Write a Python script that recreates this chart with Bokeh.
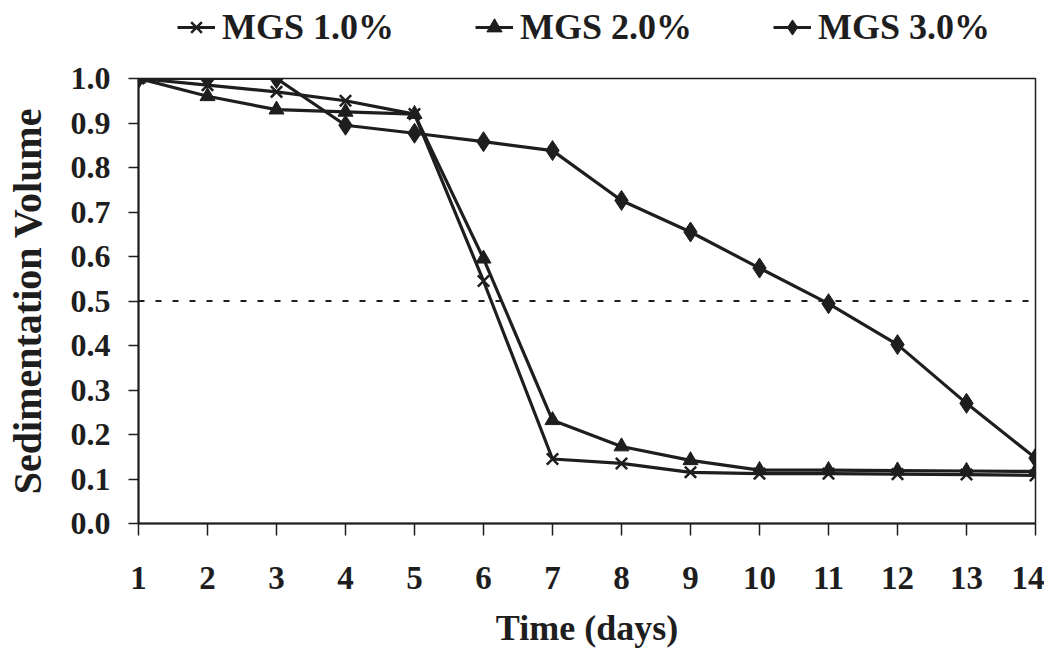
from bokeh.plotting import figure
from bokeh.layouts import column
from bokeh.models import Range1d, FixedTicker, Span, Legend, LegendItem, NumeralTickFormatter
from bokeh.embed import file_html
from bokeh.resources import INLINE

days = list(range(1, 15))
mgs_1 = [1.0, 0.985, 0.97, 0.95, 0.92, 0.545, 0.145, 0.135, 0.115, 0.112, 0.112, 0.111, 0.110, 0.108]
mgs_2 = [1.0, 0.96, 0.93, 0.925, 0.92, 0.595, 0.232, 0.173, 0.142, 0.120, 0.120, 0.119, 0.118, 0.117]
mgs_3 = [1.0, 1.0, 1.0, 0.895, 0.877, 0.858, 0.838, 0.726, 0.655, 0.574, 0.494, 0.402, 0.270, 0.147]
series_names = ["MGS 1.0%", "MGS 2.0%", "MGS 3.0%"]
y_ticks = [0.0, 0.1, 0.2, 0.3, 0.4, 0.5, 0.6, 0.7, 0.8, 0.9, 1.0]
threshold = 0.5

FONT = "Liberation Serif"
INK = "#1e1e1e"
LEG_H = 60

styles = [dict(marker="x", size=16, line_color=INK, line_width=2.5),
          dict(marker="triangle", size=15, fill_color=INK, line_color=INK),
          dict(marker="diamond", size=20, fill_color=INK, line_color=INK)]

# ---------- main chart ----------
p = figure(frame_width=897, frame_height=445, output_backend="svg", toolbar_location=None,
           x_range=Range1d(1, 14), y_range=Range1d(0, 1.0),
           min_border_left=138, min_border_right=9, min_border_top=18, min_border_bottom=110)
p.background_fill_color = "white"
p.border_fill_color = "white"
p.outline_line_color = INK
p.outline_line_width = 1.5
p.xgrid.visible = False
p.ygrid.visible = False

p.add_layout(Span(location=threshold, dimension="width", line_color=INK,
                  line_dash="6 11", line_width=2))

series = [mgs_1, mgs_2, mgs_3]
for ys, st in zip(series, styles):
    p.line(days, ys, line_color=INK, line_width=3.2)
    p.scatter(days, ys, **st)

p.xaxis.ticker = FixedTicker(ticks=days)
p.yaxis.ticker = FixedTicker(ticks=y_ticks)
p.yaxis.formatter = NumeralTickFormatter(format="0.0")

for ax in (p.xaxis, p.yaxis):
    ax.axis_line_color = INK
    ax.axis_line_width = 2
    ax.major_tick_line_color = INK
    ax.major_tick_line_width = 1.5
    ax.major_tick_in = 0
    ax.minor_tick_line_color = None
    ax.major_label_text_font = FONT
    ax.major_label_text_font_style = "bold"
    ax.major_label_text_color = INK
    ax.axis_label_text_font = FONT
    ax.axis_label_text_font_style = "bold"
    ax.axis_label_text_color = INK

p.xaxis.major_tick_out = 12
p.xaxis.major_label_text_font_size = "33px"
p.xaxis.major_label_standoff = 31
p.xaxis.axis_label = "Time (days)"
p.xaxis.axis_label_text_font_size = "36px"
p.xaxis.axis_label_standoff = 16

p.yaxis.major_tick_out = 10
p.yaxis.major_label_text_font_size = "32px"
p.yaxis.major_label_standoff = 18
p.yaxis.axis_label = "Sedimentation Volume"
p.yaxis.axis_label_text_font_size = "40px"
p.yaxis.axis_label_standoff = 18

# ---------- legend strip (its ranges lie away from the data, so only the legend shows) ----------
lf = figure(frame_width=897, frame_height=LEG_H, output_backend="svg", toolbar_location=None,
            x_range=Range1d(100, 101), y_range=Range1d(100, 101),
            min_border_left=138, min_border_right=9, min_border_top=0, min_border_bottom=0)
lf.axis.visible = False
lf.grid.visible = False
lf.outline_line_color = None
lf.background_fill_color = "white"
lf.border_fill_color = "white"

items = []
for name, ys, st in zip(series_names, series, styles):
    lr = lf.line(days, ys, line_color=INK, line_width=3)
    sr = lf.scatter(days, ys, **st)
    items.append(LegendItem(label=name, renderers=[lr, sr]))

legend = Legend(items=items, orientation="horizontal", location=(39, 12),
                margin=0, padding=0, spacing=81, label_standoff=7,
                glyph_width=38, glyph_height=40, label_height=40,
                label_text_font=FONT, label_text_font_style="bold",
                label_text_font_size="36px", label_text_color=INK,
                border_line_color=None, background_fill_alpha=0)
lf.add_layout(legend, "center")

layout = column(lf, p, spacing=0)
open("out.html", "w").write(file_html(layout, INLINE))
